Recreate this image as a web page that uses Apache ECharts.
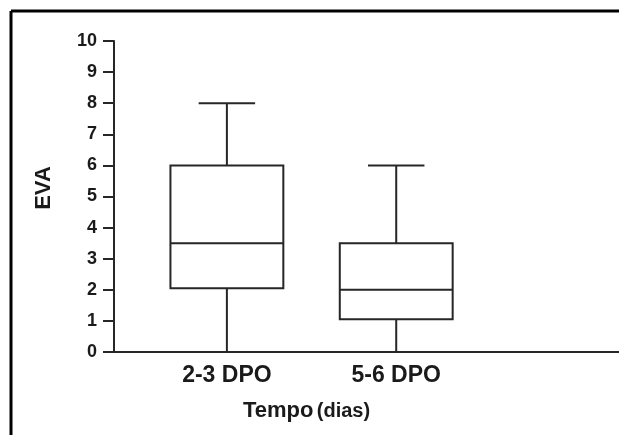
<!DOCTYPE html>
<html>
<head>
<meta charset="utf-8">
<script src="https://cdn.jsdelivr.net/npm/echarts@6/dist/echarts.min.js"></script>
<style>
  html, body { margin: 0; padding: 0; background: #fff; }
  #chart { width: 619px; height: 435px; }
</style>
</head>
<body>
<div id="chart"></div>
<script>
// category slots along the x axis (blank ones are just spacing)
var categories = ['', '', '2-3 DPO', '', '', '5-6 DPO', '', '', '', ''];
// where each group sits among the slots
var groupSlot = [2, 5];
// min, Q1, median, Q3, max
var boxMin    = [0, 0];
var boxQ1     = [2.05, 1.05];
var boxMedian = [3.5, 2];
var boxQ3     = [6, 3.5];
var boxMax    = [8, 6];
var yTicks = [0, 10, 1]; // min, max, interval

var boxData = [];
for (var i = 0; i < groupSlot.length; i++) {
  boxData.push([groupSlot[i], boxMin[i], boxQ1[i], boxMedian[i], boxQ3[i], boxMax[i]]);
}

var lineCol = '#262626';
var fontFam = '"Liberation Sans", Arial, sans-serif';

// box + whiskers, caps are half as wide as the box
function renderBox(params, api) {
  var x = api.value(0);
  var pMin = api.coord([x, api.value(1)]);
  var pQ1  = api.coord([x, api.value(2)]);
  var pMed = api.coord([x, api.value(3)]);
  var pQ3  = api.coord([x, api.value(4)]);
  var pMax = api.coord([x, api.value(5)]);
  var cx = pMed[0];
  var half = api.size([1, 0])[0]; // box spans two slots
  var cap = half / 2;
  var st = { stroke: lineCol, lineWidth: 2, fill: null };
  return {
    type: 'group',
    children: [
      { type: 'line', shape: { x1: cx, y1: pMin[1], x2: cx, y2: pQ1[1] }, style: st },
      { type: 'line', shape: { x1: cx, y1: pQ3[1], x2: cx, y2: pMax[1] }, style: st },
      { type: 'line', shape: { x1: cx - cap, y1: pMin[1], x2: cx + cap, y2: pMin[1] }, style: st },
      { type: 'line', shape: { x1: cx - cap, y1: pMax[1], x2: cx + cap, y2: pMax[1] }, style: st },
      { type: 'rect', shape: { x: cx - half, y: pQ3[1], width: half * 2, height: pQ1[1] - pQ3[1] },
        style: { stroke: lineCol, lineWidth: 2, fill: '#fff' } },
      { type: 'line', shape: { x1: cx - half, y1: pMed[1], x2: cx + half, y2: pMed[1] }, style: st }
    ]
  };
}

var myChart = echarts.init(document.getElementById('chart'));
myChart.setOption({
  animation: false,
  backgroundColor: '#fff',
  grid: { left: 114, right: -3, top: 41, bottom: 83, outerBoundsMode: 'none' },
  xAxis: {
    type: 'category',
    data: categories,
    boundaryGap: false,
    axisLine: { lineStyle: { color: lineCol, width: 2 } },
    axisTick: { show: false },
    axisLabel: {
      interval: 0,
      margin: 12,
      color: '#1a1a1a',
      fontFamily: fontFam,
      fontWeight: 'bold',
      fontSize: 23
    },
    splitLine: { show: false }
  },
  yAxis: {
    type: 'value',
    min: yTicks[0],
    max: yTicks[1],
    interval: yTicks[2],
    axisLine: { show: true, lineStyle: { color: lineCol, width: 2 } },
    axisTick: { show: true, length: 11, lineStyle: { color: lineCol, width: 2 } },
    axisLabel: {
      margin: 17,
      color: '#1a1a1a',
      fontFamily: fontFam,
      fontWeight: 'bold',
      fontSize: 18
    },
    splitLine: { show: false }
  },
  series: [{
    type: 'custom',
    data: boxData,
    encode: { x: 0, y: [1, 2, 3, 4, 5] },
    renderItem: renderBox,
    silent: true
  }],
  graphic: [
    // frame (only top and left edges are in view)
    { type: 'line', shape: { x1: 11, y1: 11, x2: 619, y2: 11 }, style: { stroke: '#000', lineWidth: 3 } },
    { type: 'line', shape: { x1: 11, y1: 11, x2: 11, y2: 435 }, style: { stroke: '#000', lineWidth: 3 } },
    {
      type: 'text', x: 44, y: 188, rotation: Math.PI / 2,
      style: {
        text: 'EVA', fill: '#1a1a1a', font: 'bold 22px ' + fontFam,
        align: 'center', verticalAlign: 'middle'
      }
    },
    {
      type: 'text', left: 243, top: 400,
      style: {
        text: '{a|Tempo} {b|(dias)}',
        rich: {
          a: { fontFamily: fontFam, fontWeight: 'bold', fontSize: 22, fill: '#1a1a1a' },
          b: { fontFamily: fontFam, fontWeight: 'bold', fontSize: 20, fill: '#1a1a1a' }
        }
      }
    }
  ]
});
</script>
</body>
</html>
